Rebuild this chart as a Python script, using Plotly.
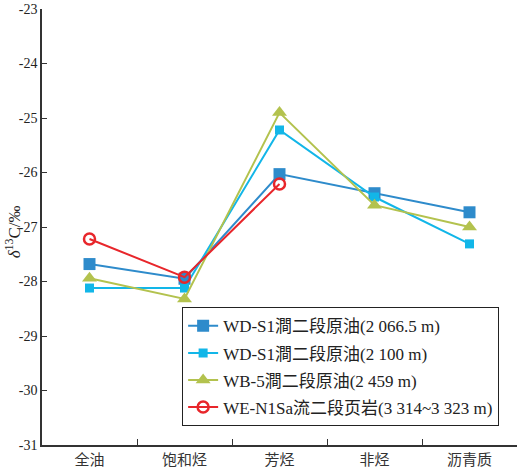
import plotly.graph_objects as go

categories = ["全油", "饱和烃", "芳烃", "非烃", "沥青质"]
s1_2066 = [-27.68, -27.95, -26.03, -26.38, -26.73]
s1_2100 = [-28.12, -28.12, -25.22, -26.45, -27.31]
wb5 = [-27.94, -28.32, -24.90, -26.60, -27.00]
we_n1 = [-27.22, -27.92, -26.21]
names = ["WD-S1澗二段原油(2 066.5 m)", "WD-S1澗二段原油(2 100 m)",
         "WB-5澗二段原油(2 459 m)", "WE-N1Sa流二段页岩(3 314~3 323 m)"]
ytickvals = [-23, -24, -25, -26, -27, -28, -29, -30, -31]
yticktext = ["-23", "-24", "-25", "-26", "-27", "-28", "-29", "-30", "-31"]
ytitle = "<i>δ</i><sup>13</sup>C/‰"

FONT = "Liberation Serif, Noto Sans CJK SC, serif"

fig = go.Figure()
fig.add_trace(go.Scatter(x=categories, y=s1_2066, name=names[0], mode="lines+markers",
                         line=dict(color="#2E8BCB", width=2),
                         marker=dict(symbol="square", size=12, color="#2E8BCB"),
                         legendgroup="a"))
fig.add_trace(go.Scatter(x=categories, y=s1_2100, name=names[1], mode="lines+markers",
                         line=dict(color="#12B6E8", width=2),
                         marker=dict(symbol="square", size=9, color="#12B6E8"),
                         legendgroup="b"))
fig.add_trace(go.Scatter(x=categories, y=wb5, name=names[2], mode="lines+markers",
                         line=dict(color="#B3C24E", width=2),
                         marker=dict(symbol="triangle-up", size=13, color="#B3C24E"),
                         legendgroup="c"))
fig.add_trace(go.Scatter(x=categories[:3], y=we_n1, name=names[3], mode="lines+markers",
                         line=dict(color="#E8262B", width=2),
                         marker=dict(symbol="circle-open", size=11, color="#E8262B",
                                     line=dict(width=2.5, color="#E8262B")),
                         legendgroup="d"))

fig.update_layout(
    width=517, height=472,
    margin=dict(l=42, r=0, t=9, b=27, autoexpand=False),
    paper_bgcolor="white", plot_bgcolor="white",
    font=dict(family=FONT, size=14, color="#222"),
    showlegend=True,
    legend=dict(x=0.295, y=0.043, xanchor="left", yanchor="bottom",
                bordercolor="#222", borderwidth=1, bgcolor="white",
                font=dict(family=FONT, size=17, color="#222"),
                traceorder="grouped", tracegroupgap=2),
    xaxis=dict(type="category", range=[-0.5, 4.5], tickson="boundaries",
               ticks="inside", ticklen=6, tickcolor="#333", tickwidth=1,
               showline=True, linecolor="#333", linewidth=1.5,
               showgrid=False, zeroline=False,
               tickfont=dict(family="Noto Sans CJK SC", size=15, color="#333")),
    yaxis=dict(range=[-31, -23], tickmode="array", tickvals=ytickvals, ticktext=yticktext,
               ticks="inside", ticklen=5, tickcolor="#333", tickwidth=1,
               showline=True, linecolor="#333", linewidth=1.5,
               showgrid=False, zeroline=False,
               tickfont=dict(family=FONT, size=14, color="#222")),
    annotations=[dict(text=ytitle, xref="paper", yref="paper", x=-0.062, y=0.489,
                      xanchor="center", yanchor="middle", textangle=-90, showarrow=False,
                      font=dict(family=FONT, size=17, color="#222"))],
)

fig.write_html("out.html", config={"displayModeBar": False},
               post_script="document.body.style.margin='0';")
